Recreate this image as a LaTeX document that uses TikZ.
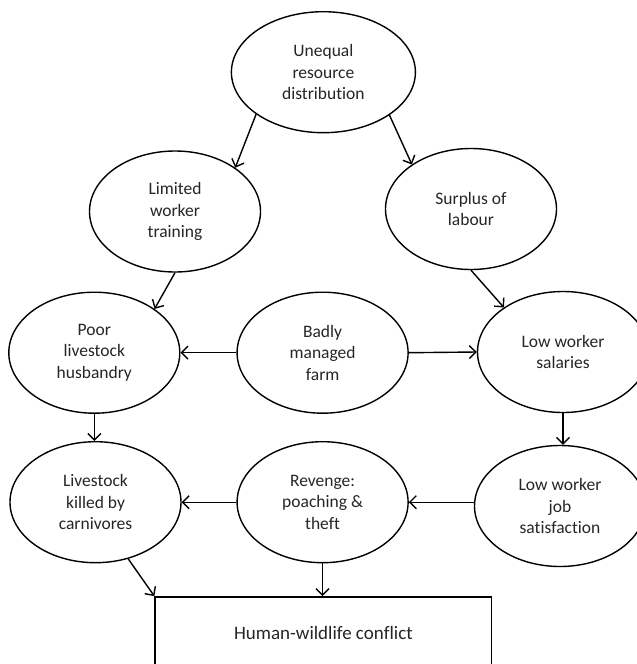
\documentclass[tikz,border=0pt]{standalone}
\usepackage{fontspec}
\setmainfont{Carlito}[Ligatures={NoCommon}]
\usetikzlibrary{shapes.geometric,arrows.meta}
\begin{document}
\begin{tikzpicture}[x=1pt,y=-1pt,
  bubble/.style={ellipse,draw,line width=1.4pt,inner sep=0pt,minimum width=171pt,minimum height=121pt,align=center,font=\fontsize{17.5}{21.5}\selectfont,text=black!85},
  conn/.style={line width=1.4pt,-{Straight Barb[length=6.5pt,width=13pt,line width=1.4pt]}},
  outcome/.style={rectangle,draw,line width=1.4pt,minimum width=336.7pt,minimum height=73pt,inner sep=0pt,font=\fontsize{19}{23}\selectfont,text=black!85}]
\useasboundingbox (0,0) rectangle (637,664);
\fill[white] (0,0) rectangle (637,664);
\clip (0,0) rectangle (637,664);
\node[bubble,minimum width=184pt] (top) at (323.4,72.2) {Unequal\\resource\\distribution};
\node[bubble] (limited) at (175,211.5) {Limited\\worker\\training};
\node[bubble] (surplus) at (471,209) {Surplus of\\labour};
\node[bubble] (poor) at (94.3,352.7) {Poor\\livestock\\husbandry};
\node[bubble] (badly) at (322.6,352.7) {Badly\\managed\\farm};
\node[bubble] (lowsal) at (563,352) {Low worker\\salaries};
\node[bubble] (killed) at (95.5,502.2) {Livestock\\killed by\\carnivores};
\node[bubble] (revenge) at (322.6,502.2) {Revenge:\\poaching \&\\theft};
\node[bubble] (lowjob) at (560,506) {Low worker\\job\\satisfaction};
\node[outcome] (hwc) at (323.4,633.3) {Human-wildlife conflict};
\draw[conn] (top.212.7) -- (limited.36.5);
\draw[conn] (top.327) -- (surplus.143.6);
\draw[conn] (limited.270) -- (poor.36.4);
\draw[conn] (surplus.270) -- (lowsal.143.9);
\draw[conn] (badly.west) -- (poor.east);
\draw[conn] (badly.east) -- (lowsal.west);
\draw[conn] (lowsal.south) -- (lowsal.south |- lowjob.north);
\draw[conn] (poor.south) -- (poor.south |- killed.north);
\draw[conn] (revenge.west) -- (killed.east);
\draw[conn] (lowjob.west |- revenge.east) -- (revenge.east);
\draw[conn] (killed.300.8) -- (hwc.north west);
\draw[conn] (revenge.south) -- (revenge.south |- hwc.north);
\end{tikzpicture}
\end{document}
